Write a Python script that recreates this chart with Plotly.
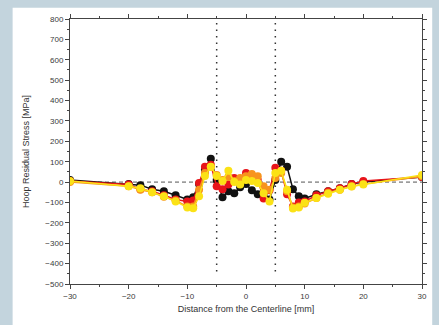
import plotly.graph_objects as go

x = [-30, -20, -18, -16, -14, -12, -10, -9, -8, -7, -6, -5, -4, -3, -2, -1, 0,
     1, 2, 3, 4, 5, 6, 7, 8, 9, 10, 12, 14, 16, 18, 20, 30]

black = [10, -10, -15, -35, -45, -65, -85, -75, -10, 60, 115, 10, -75, -45, -55, -25, -10,
         -40, -60, -70, -85, 10, 100, 75, -35, -70, -80, -60, -45, -30, -10, 0, 25]
red = [5, -12, -35, -45, -65, -85, -95, -90, -5, 75, 85, -20, -35, -12, 20, 10, 45,
       30, 10, -80, -40, 70, 55, -60, -120, -100, -95, -65, -45, -30, -10, 5, 25]
orange = [0, -20, -38, -50, -72, -90, -120, -120, -38, 45, 75, 35, 10, 25, 5, 20, 28,
          40, 28, -20, -38, 20, 45, -45, -125, -120, -105, -78, -52, -38, -20, -10, 28]
yellow = [5, -20, -30, -50, -70, -95, -125, -128, -70, 30, 75, 30, 5, 55, 0, -12, 10,
          5, -5, -55, -95, 45, 55, -38, -130, -125, -102, -78, -57, -38, -22, -12, 35]

series = [("black", "#111111", black), ("red", "#e8141a", red),
          ("orange", "#f7941d", orange), ("yellow", "#fbe216", yellow)]

x_ticks = [-30, -20, -10, 0, 10, 20, 30]
y_ticks = list(range(-500, 801, 100))
boundaries = [-5, 5]

fig = go.Figure()
for name, col, vals in series:
    fig.add_trace(go.Scatter(x=x, y=vals, mode="lines+markers", name=name,
                             line=dict(color=col, width=1.5),
                             marker=dict(color=col, size=8, symbol="circle"),
                             showlegend=False))

# white panel behind the plot
fig.add_shape(type="rect", xref="paper", yref="paper", x0=-0.163, x1=1.029, y0=-0.2, y1=1.0425,
              fillcolor="white", line=dict(width=0), layer="below")
# zero line
fig.add_shape(type="line", xref="x", yref="y", x0=-30, x1=30, y0=0, y1=0,
              line=dict(color="#555555", width=1, dash="4px,3px"), layer="below")
for b in boundaries:
    fig.add_shape(type="line", xref="x", yref="y", x0=b, x1=b, y0=780, y1=-450,
                  line=dict(color="#333333", width=1.5, dash="1.5px,5px"), layer="below")

axis_common = dict(showgrid=False, zeroline=False, showline=True, linecolor="#444444",
                   linewidth=1, mirror="ticks", ticks="outside", ticklen=4, tickcolor="#444444",
                   tickfont=dict(family="Liberation Sans, Arial", size=8, color="#3a3a3a"))

fig.update_xaxes(range=[-30, 30], tickvals=x_ticks,
                 minor=dict(dtick=5, ticklen=2, ticks="outside", tickcolor="#444444"),
                 title=dict(text="Distance from the Centerline [mm]", standoff=6,
                            font=dict(family="Liberation Sans, Arial", size=9, color="#333333")),
                 **axis_common)
fig.update_yaxes(range=[-500, 800], tickvals=y_ticks,
                 minor=dict(dtick=50, ticklen=2, ticks="outside", tickcolor="#444444"),
                 title=dict(text="Hoop Residual Stress [MPa]", standoff=14,
                            font=dict(family="Liberation Sans, Arial", size=9, color="#333333")),
                 **axis_common)

fig.update_layout(width=439, height=325, margin=dict(l=70, r=13, t=19, b=40),
                  paper_bgcolor="#c3d4dd", plot_bgcolor="white", showlegend=False)

fig.write_html("out.html")
